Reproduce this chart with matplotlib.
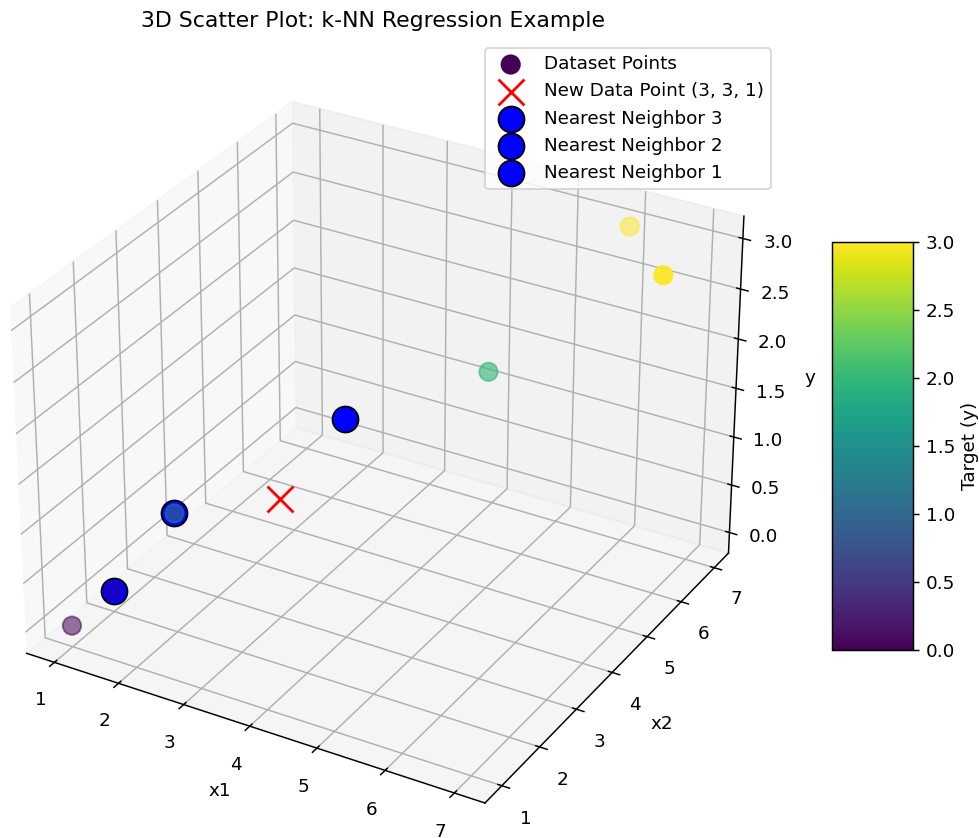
import matplotlib
matplotlib.use("Agg")
import matplotlib.pyplot as plt
import numpy as np

x1 = [1, 1, 2, 4, 5, 6, 7]
x2 = [1, 2, 2, 3, 5, 7, 6]
y = [0.0, 0.0, 1.0, 2.0, 2.0, 3.0, 3.0]
new_point = (3, 3, 1)
nn_x1 = [4, 2, 1]
nn_x2 = [3, 2, 2]
nn_y = [2.0, 1.0, 0.0]
nn_order = [9, 1, 1]

DPI = 132
W, H = 979, 838
fig = plt.figure(figsize=(W / DPI, H / DPI), dpi=DPI)
box = 816
ax = fig.add_axes([-35 / W, -16.5 / H, box / W, box / H], projection='3d', computed_zorder=False)
sc = ax.scatter(x1, x2, y, c=y, cmap='viridis', s=100, vmin=0, vmax=3, label='Dataset Points', zorder=3)
ax.scatter(*new_point, color='red', marker='x', s=200, label='New Data Point (3, 3, 1)', zorder=4)
for i in range(3):
    ax.scatter(nn_x1[i], nn_x2[i], nn_y[i], color='blue', s=200, edgecolor='black',
               label=f'Nearest Neighbor {3 - i}', zorder=nn_order[i])
ax.set_xlabel('x1')
ax.set_ylabel('x2')
ax.set_zlabel('y')
ax.set_title('3D Scatter Plot: k-NN Regression Example', pad=6.5)
ax.legend(loc='upper right', bbox_to_anchor=(771 / W, 1 - 48 / H), bbox_transform=fig.transFigure, borderaxespad=0)
cax = fig.add_axes([832 / W, 1 - 650 / H, 81 / W, 408 / H])
cb = fig.colorbar(sc, cax=cax)
cb.set_label('Target (y)', labelpad=3.4)
fig.savefig('out.png', dpi=DPI)
